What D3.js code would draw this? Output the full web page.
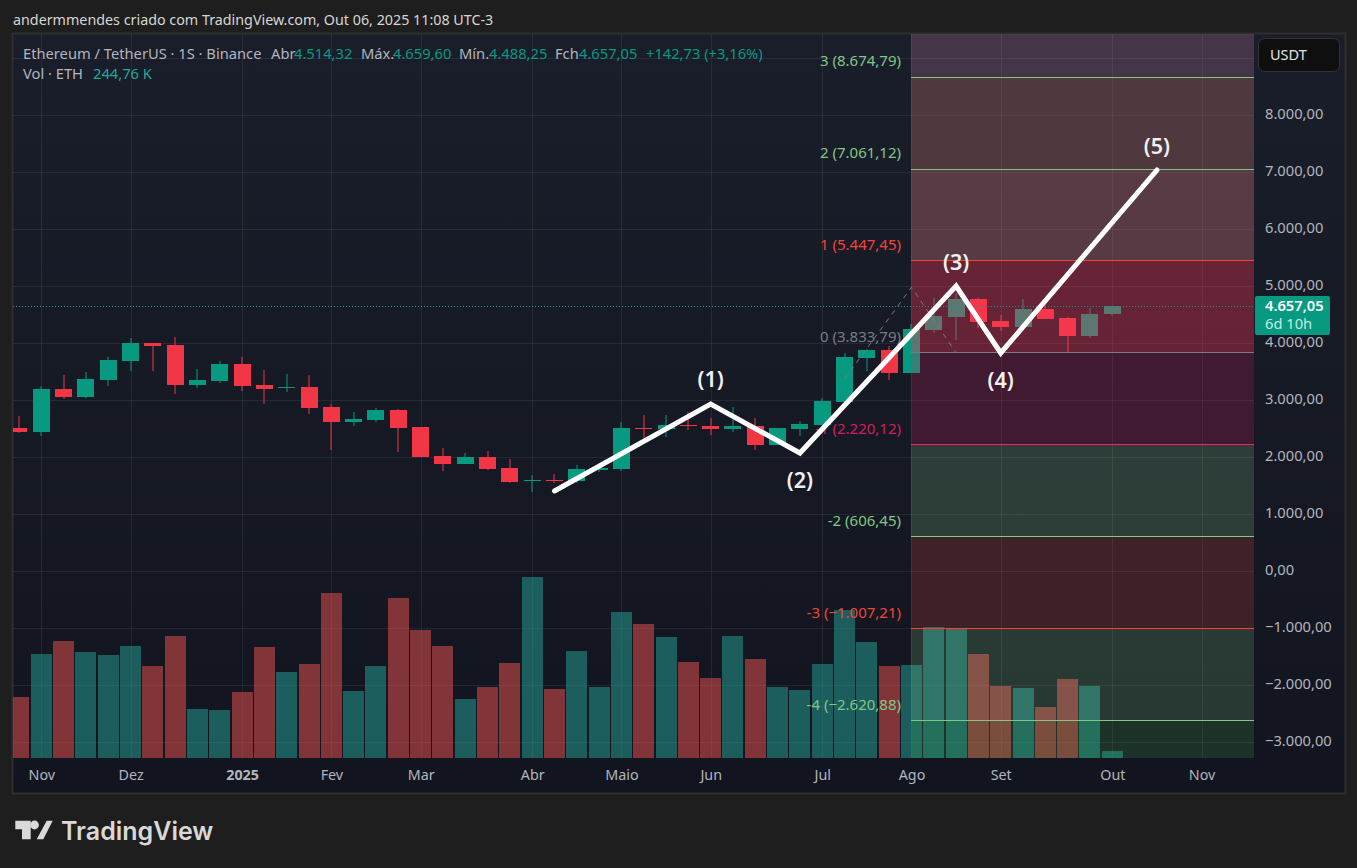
<!DOCTYPE html>
<html>
<head>
<meta charset="utf-8">
<script src="https://cdn.jsdelivr.net/npm/d3@7"></script>
<style>
html,body{margin:0;padding:0;background:#1e1e1e;overflow:hidden}
svg{display:block}
text{font-family:"Noto Sans",sans-serif}
.axis path,.axis line{display:none}
</style>
</head>
<body>
<svg id="chart" width="1357" height="868"></svg>
<script>
// ETH/USDT weekly candles, index 0 is the first week of Nov 2024
const firstIndex = -1;
const opens  = [2514,2444,3198,3058,3356,3690,4005,3970,3268,3339,3637,3268,3216,3233,2882,2620,2655,2830,2532,2023,1882,2005,1812,1584,1602,1584,1777,1795,2514,2497,2567,2549,2497,2549,2216,2497,2567,2970,3742,3882,3479,4233,4461,4777,4391,4286,4602,4444,4128,4514.32];
const highs  = [2725,3251,3444,3497,3760,4093,4005,4110,3549,3690,3760,3532,3462,3444,2935,2795,2865,2847,2532,2163,2075,2110,1970,1689,1707,1865,1847,2620,2742,2742,2795,2690,2882,2690,2514,2637,3040,3830,3900,3953,4339,4795,4882,4795,4497,4777,4672,4461,4619,4659.60];
const lows   = [2426,2374,3023,3040,3251,3514,3514,3111,3216,3304,3163,2935,3146,2760,2128,2549,2620,2093,2005,1760,1882,1777,1549,1391,1549,1549,1742,1760,2339,2356,2479,2391,2444,2128,2216,2374,2567,2970,3514,3356,3479,4181,4058,4268,4216,4286,4426,3847,4093,4488.25];
const closes = [2444,3198,3058,3374,3707,4005,3953,3268,3356,3637,3251,3198,3233,2865,2620,2672,2830,2514,2005,1882,2005,1795,1566,1602,1584,1795,1812,2514,2497,2567,2549,2497,2549,2216,2514,2584,2988,3760,3882,3479,4251,4479,4777,4374,4286,4602,4426,4128,4514,4657.05];
// Weekly volume in thousands of ETH
const volumes = [2135,3640,4095,3710,3605,3920,3220,4270,1715,1680,2310,3885,3010,3290,5775,2345,3220,5600,4480,3920,2065,2485,3325,6335,2415,3745,2485,5110,4690,4235,3360,2800,4270,3465,2485,2380,3290,5180,4060,3220,3255,4585,4515,3640,2520,2450,1785,2765,2520,244.76];

// Time axis: week index of each month label
const monthTicks  = [0,4,9,13,17,22,26,30,35,39,43,48,52];
const monthLabels = ["Nov","Dez","2025","Fev","Mar","Abr","Maio","Jun","Jul","Ago","Set","Out","Nov"];
const priceLabelTicks = [8000,7000,6000,5000,4000,3000,2000,1000,0,-1000,-2000,-3000];
const priceGridTicks  = [9000,...priceLabelTicks];

// Fibonacci extension levels, top to bottom
const fibStartIndex = 39;
const fibLevels = [8674.79,7061.12,5447.45,3833.79,2220.12,606.45,-1007.21,-2620.88];
const fibNames  = ["3","2","1","0","-1","-2","-3","-4"];
const fibLineColors  = ["#81c784","#81c784","#f44336","#787b86","#f0245f","#81c784","#f44336","#81c784"];
const fibLabelColors = ["#81c784","#81c784","#f44336","#787b86","#d81b60","#81c784","#f44336","#81c784"];
const fibBandEdges = [10288.45,...fibLevels,-4234.55];
const fibBandColors = ["rgb(241,145,201)","rgb(208,122,113)","rgb(218,122,130)","rgb(252,54,87)","rgb(233,30,99)","rgb(177,255,167)","rgb(241,70,61)","rgb(158,243,155)","rgb(88,212,89)"];
const fibBandAlpha  = [0.2,0.3,0.33,0.35,0.2,0.16,0.2,0.16,0.15];

// Dashed swing used to anchor the Fibonacci tool
const swingIndex = [36,39,41];
const swingPrice = [3374,4982,3833];

// Elliott wave count drawn by hand on the chart
const waveIndex  = [23,30,34,41,43,50];
const wavePrice  = [1409,2935,2075,5005,3830,7040];
const waveNames  = ["(1)","(2)","(3)","(4)","(5)"];
const waveOffset = [-26,26,-25,27,-25];

const upColor = "#089981", downColor = "#f23645";
const volUp = "rgba(38,166,154,0.5)", volDown = "rgba(239,83,80,0.5)";

const plot = {left:13,right:1254,top:34,bottom:758};
const frame = {left:13,right:1345,top:34,bottom:793};

const x = d3.scaleLinear().domain([0,48]).range([41.3,1112.3]);
const y = d3.scaleLinear().domain([0,8000]).range([571.3,115.3]);
const vol = d3.scaleLinear().domain([0,6335]).range([758,577]);
const loc = d3.formatLocale({decimal:",",thousands:".",grouping:[3],currency:["",""],minus:"\u2212"});
const fmt = loc.format(",.2f");

const svg = d3.select("#chart");
const defs = svg.append("defs");
const grad = defs.append("linearGradient").attr("id","paneBg").attr("x1",0).attr("x2",0).attr("y1",0).attr("y2",1);
grad.append("stop").attr("offset","0%").attr("stop-color","#1a1e2a");
grad.append("stop").attr("offset","100%").attr("stop-color","#12151f");
defs.append("clipPath").attr("id","plotClip").append("rect")
  .attr("x",plot.left).attr("y",plot.top).attr("width",plot.right-plot.left).attr("height",plot.bottom-plot.top);

// Page caption
svg.append("text").attr("x",13).attr("y",25).attr("fill","#d6d6d6").attr("font-size",14.3)
  .text("andermmendes criado com TradingView.com, Out 06, 2025 11:08 UTC-3");

// Chart pane and border
svg.append("rect").attr("x",frame.left-0.5).attr("y",frame.top-0.5)
  .attr("width",frame.right-frame.left+1).attr("height",frame.bottom-frame.top+1)
  .attr("fill","url(#paneBg)").attr("stroke","#2e2e2e").attr("stroke-width",2);

const pane = svg.append("g").attr("clip-path","url(#plotClip)");

// Grid
const gridColor = "rgba(255,255,255,0.07)";
pane.append("g").selectAll("line").data(priceGridTicks).join("line")
  .attr("x1",plot.left).attr("x2",plot.right)
  .attr("y1",d=>Math.round(y(d))+0.5).attr("y2",d=>Math.round(y(d))+0.5)
  .attr("stroke",gridColor);
pane.append("g").selectAll("line").data(monthTicks).join("line")
  .attr("y1",plot.top).attr("y2",plot.bottom)
  .attr("x1",d=>Math.round(x(d))+0.5).attr("x2",d=>Math.round(x(d))+0.5)
  .attr("stroke",gridColor);

// Volume histogram and candles share one row per week
const weeks = opens.map((o,k)=>({i:firstIndex+k,o,h:highs[k],l:lows[k],c:closes[k],v:volumes[k]}));

pane.append("g").selectAll("rect").data(weeks).join("rect")
  .attr("x",d=>Math.round(x(d.i)-10.5)).attr("width",21)
  .attr("y",d=>vol(d.v)).attr("height",d=>vol(0)-vol(d.v))
  .attr("fill",d=>d.c>=d.o?volUp:volDown);

const candle = pane.append("g").selectAll("g").data(weeks).join("g")
  .attr("fill",d=>d.c>=d.o?upColor:downColor);
candle.append("rect")
  .attr("x",d=>Math.round(x(d.i))-0.5).attr("width",1)
  .attr("y",d=>y(d.h)).attr("height",d=>y(d.l)-y(d.h));
candle.append("rect")
  .attr("x",d=>Math.round(x(d.i)-8.5)).attr("width",17)
  .attr("y",d=>Math.round(y(Math.max(d.o,d.c))))
  .attr("height",d=>Math.max(1,Math.round(y(Math.min(d.o,d.c)))-Math.round(y(Math.max(d.o,d.c)))));

// Fibonacci bands and levels, snapped to one device pixel
const fibX = Math.round(x(fibStartIndex));
const fibRow = d=>Math.round(y(d)-0.3);
pane.append("g").selectAll("rect").data(fibBandColors).join("rect")
  .attr("x",fibX).attr("width",plot.right-fibX)
  .attr("y",(d,k)=>fibRow(fibBandEdges[k])).attr("height",(d,k)=>fibRow(fibBandEdges[k+1])-fibRow(fibBandEdges[k]))
  .attr("fill",d=>d).attr("fill-opacity",(d,k)=>fibBandAlpha[k]);
pane.append("g").selectAll("line").data(fibLevels).join("line")
  .attr("x1",fibX).attr("x2",plot.right)
  .attr("y1",d=>fibRow(d)+0.5).attr("y2",d=>fibRow(d)+0.5)
  .attr("stroke",(d,k)=>fibLineColors[k]);

// Dotted last-price line
pane.append("line").attr("x1",plot.left).attr("x2",plot.right)
  .attr("y1",Math.round(y(closes[closes.length-1]))+0.5).attr("y2",Math.round(y(closes[closes.length-1]))+0.5)
  .attr("stroke",upColor).attr("stroke-dasharray","1 2");

// Dashed anchor swing
const swingLine = d3.line().x(d=>x(d[0])).y(d=>y(d[1]));
pane.append("path").attr("d",swingLine(swingIndex.map((d,k)=>[d,swingPrice[k]])))
  .attr("fill","none").attr("stroke","#787b86").attr("stroke-dasharray","5 5");

// Level captions
svg.append("g").selectAll("text").data(fibLevels).join("text")
  .attr("x",901).attr("y",d=>y(d)-11).attr("text-anchor","end").attr("font-size",15)
  .attr("fill",(d,k)=>fibLabelColors[k])
  .text((d,k)=>`${fibNames[k]} (${fmt(d)})`);

// Wave count
const wavePoints = waveIndex.map((d,k)=>[d,wavePrice[k]]);
svg.append("path").attr("d",swingLine(wavePoints)).attr("fill","none")
  .attr("stroke","#ffffff").attr("stroke-width",5).attr("stroke-linecap","round").attr("stroke-linejoin","miter");
svg.append("g").selectAll("text").data(waveNames).join("text")
  .attr("x",(d,k)=>x(waveIndex[k+1])).attr("y",(d,k)=>y(wavePrice[k+1])+waveOffset[k])
  .attr("text-anchor","middle").attr("dominant-baseline","central")
  .attr("font-size",21.5).attr("font-weight",600).attr("fill","#f0f0f0").text(d=>d);

// Price axis
const yAxis = d3.axisRight(y).tickValues(priceLabelTicks).tickSize(0).tickPadding(0).tickFormat(fmt);
const yG = svg.append("g").attr("class","axis").attr("transform","translate(1265,-2)").call(yAxis);
yG.selectAll("text").attr("font-size",14.7).attr("fill","#b2b5be").attr("font-family",'"Noto Sans",sans-serif');

// Time axis
const xAxis = d3.axisBottom(x).tickValues(monthTicks).tickSize(0).tickPadding(0).tickFormat((d,k)=>monthLabels[k]);
const xG = svg.append("g").attr("class","axis").attr("transform","translate(0,770)").call(xAxis);
xG.selectAll("text").attr("font-size",14.3).attr("fill","#b2b5be").attr("font-family",'"Noto Sans",sans-serif')
  .attr("font-weight",(d,k)=>monthLabels[k]==="2025"?700:400);

// Currency button
svg.append("rect").attr("x",1258.5).attr("y",38.5).attr("width",81).attr("height",33).attr("rx",6)
  .attr("fill","#0f0f0f").attr("stroke","#333");
svg.append("text").attr("x",1270).attr("y",60).attr("font-size",14.5).attr("fill","#e4e4e4").text("USDT");

// Last-price tag
svg.append("rect").attr("x",1255).attr("y",296).attr("width",75).attr("height",39).attr("rx",2).attr("fill",upColor);
svg.append("text").attr("x",1265).attr("y",311).attr("font-size",14.7).attr("font-weight",600).attr("fill","#ffffff")
  .text(fmt(closes[closes.length-1]));
svg.append("text").attr("x",1265).attr("y",329).attr("font-size",14.7).attr("fill","#c4ebe3").text("6d 10h");

// Symbol legend
const legendGrey = "#b2b5be", legendGreen = "#089981";
const legend = [
  ["Ethereum / TetherUS \u00b7 1S \u00b7 Binance",23,59,legendGrey],
  ["Abr",271,59,legendGrey],["4.514,32",294,59,legendGreen],
  ["M\u00e1x.",361,59,legendGrey],["4.659,60",393,59,legendGreen],
  ["M\u00edn.",459,59,legendGrey],["4.488,25",489,59,legendGreen],
  ["Fch",555,59,legendGrey],["4.657,05",579,59,legendGreen],
  ["+142,73 (+3,16%)",646,59,legendGreen],
  ["Vol \u00b7 ETH",23,79,legendGrey],["244,76 K",93,79,"#26a69a"]
];
svg.append("g").selectAll("text").data(legend).join("text")
  .attr("x",d=>d[1]).attr("y",d=>d[2]).attr("font-size",14.7).attr("fill",d=>d[3]).text(d=>d[0]);

// TradingView mark and wordmark
const logo = svg.append("g").attr("fill","#d9d9d9");
logo.append("path").attr("d","M15.3 820.7H30.7V839.3H22V829.3H15.3Z");
logo.append("circle").attr("cx",34.5).attr("cy",825).attr("r",4.4);
logo.append("path").attr("d","M46.7 820.7H52.7L43.3 839.3H36.7Z");
logo.append("text").attr("x",61).attr("y",840).attr("font-size",25).attr("font-weight",600)
  .attr("style",'font-family:Inter,sans-serif').text("TradingView");
</script>
</body>
</html>
